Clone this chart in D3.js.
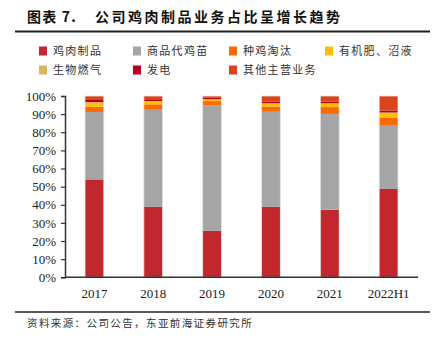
<!DOCTYPE html>
<html>
<head>
<meta charset="utf-8">
<script src="https://cdn.jsdelivr.net/npm/d3@7"></script>
<style>
  body { margin: 0; background: #fff; }
  svg { display: block; }
</style>
</head>
<body>
<svg id="chart" width="434" height="337"></svg>
<script>
// data (percent of revenue)
var years = ['2017', '2018', '2019', '2020', '2021', '2022H1'];
var seriesNames = ['鸡肉制品', '商品代鸡苗', '种鸡淘汰', '有机肥、沼液', '生物燃气', '发电', '其他主营业务'];
var chicken  = [54.0, 38.9, 25.7, 38.9, 37.3, 48.7];
var chicks   = [37.2, 53.5, 69.0, 52.4, 52.8, 34.9];
var breeders = [2.9, 3.0, 2.5, 2.9, 3.8, 4.6];
var manure   = [2.3, 1.6, 0.8, 1.6, 1.9, 2.6];
var biogas   = [0.2, 0.2, 0.2, 0.2, 0.2, 0.1];
var power    = [1.2, 1.0, 0.8, 1.0, 0.9, 1.1];
var other    = [2.2, 1.8, 1.0, 3.0, 3.1, 8.0];
var yTicks = [0, 10, 20, 30, 40, 50, 60, 70, 80, 90, 100];

var colours = ['#c1272d', '#a5a5a5', '#ff6a00', '#ffc000', '#ddb462', '#b8001c', '#d9441a'];
var allSeries = [chicken, chicks, breeders, manure, biogas, power, other];

var data = years.map(function(y, i){
    var row = { year: y };
    seriesNames.forEach(function(s, j){ row[s] = allSeries[j][i]; });
    return row;
});

var svg = d3.select('#chart');
var cjk = '"Noto Sans CJK SC", "Noto Sans", sans-serif';
var serif = '"Liberation Serif", "DejaVu Serif", serif';

// title + rule
svg.append('text')
    .attr('x', 27).attr('y', 22)
    .attr('font-family', cjk).attr('font-weight', 'bold')
    .attr('font-size', 14).attr('letter-spacing', 1.2)
    .attr('fill', '#111')
    .text('图表 7.');
svg.append('text')
    .attr('x', 95).attr('y', 22)
    .attr('font-family', cjk).attr('font-weight', 'bold')
    .attr('font-size', 14).attr('letter-spacing', 2.5)
    .attr('fill', '#111')
    .text('公司鸡肉制品业务占比呈增长趋势');
svg.append('line')
    .attr('x1', 15).attr('x2', 430).attr('y1', 31.5).attr('y2', 31.5)
    .attr('stroke', '#222').attr('stroke-width', 2);

// legend
var legX = [39, 133, 229, 325];
var legend = svg.append('g');
seriesNames.forEach(function(s, i){
    var col = i < 4 ? i : i - 4;
    var row = i < 4 ? 0 : 1;
    var g = legend.append('g')
        .attr('transform', 'translate(' + legX[col] + ',' + (51 + row * 19) + ')');
    g.append('rect')
        .attr('x', 0).attr('y', -4.5).attr('width', 8).attr('height', 9)
        .attr('fill', colours[i]);
    g.append('text')
        .attr('x', 14).attr('y', 4)
        .attr('font-family', cjk).attr('font-size', 11)
        .attr('letter-spacing', 1.3)
        .attr('fill', '#333')
        .text(s);
});

// plot
var margin = { left: 65, right: 16, top: 96, bottom: 60 };
var x = d3.scaleBand()
    .domain(years)
    .range([margin.left, 418])
    .paddingInner(0.68)
    .paddingOuter(0.34);
var y = d3.scaleLinear()
    .domain([0, 100])
    .range([277.3, margin.top]);

var stack = d3.stack().keys(seriesNames);
var layers = stack(data);

svg.append('g')
    .selectAll('g')
    .data(layers)
    .enter()
    .append('g')
    .attr('fill', function(d, i){ return colours[i]; })
    .selectAll('rect')
    .data(function(d){ return d; })
    .enter()
    .append('rect')
    .attr('x', function(d){ return x(d.data.year); })
    .attr('width', x.bandwidth())
    .attr('y', function(d){ return y(d[1]); })
    .attr('height', function(d){ return y(d[0]) - y(d[1]); });

// faint outline round each bar
svg.append('g')
    .selectAll('rect')
    .data(years)
    .enter()
    .append('rect')
    .attr('x', function(d){ return x(d); })
    .attr('width', x.bandwidth())
    .attr('y', y(100))
    .attr('height', y(0) - y(100))
    .attr('fill', 'none')
    .attr('stroke', '#e6e6e6')
    .attr('stroke-width', 0.8);

// y axis
var yAxis = svg.append('g')
    .attr('transform', 'translate(' + margin.left + ',0)')
    .call(d3.axisLeft(y).tickValues(yTicks).tickSize(4).tickPadding(5)
        .tickFormat(function(d){ return d + '%'; }));
yAxis.select('.domain').attr('stroke', '#333').attr('stroke-width', 1.5);
yAxis.selectAll('.tick line').attr('stroke', '#333').attr('stroke-width', 1.2);
yAxis.selectAll('text')
    .attr('font-family', serif).attr('font-size', 13).attr('fill', '#222');

// x axis
var xAxis = svg.append('g')
    .attr('transform', 'translate(0,' + y(0) + ')')
    .call(d3.axisBottom(x).tickSize(0).tickPadding(11));
xAxis.select('.domain').attr('stroke', '#333').attr('stroke-width', 1.5)
    .attr('d', 'M' + margin.left + ',0H418');
xAxis.selectAll('text')
    .attr('font-family', serif).attr('font-size', 13).attr('fill', '#222');

// source
svg.append('line')
    .attr('x1', 15).attr('x2', 430).attr('y1', 312).attr('y2', 312)
    .attr('stroke', '#222').attr('stroke-width', 1.5);
svg.append('text')
    .attr('x', 27).attr('y', 327)
    .attr('font-family', cjk).attr('font-size', 10.5)
    .attr('letter-spacing', 1.4)
    .attr('fill', '#333')
    .text('资料来源：公司公告，东亚前海证券研究所');
</script>
</body>
</html>
